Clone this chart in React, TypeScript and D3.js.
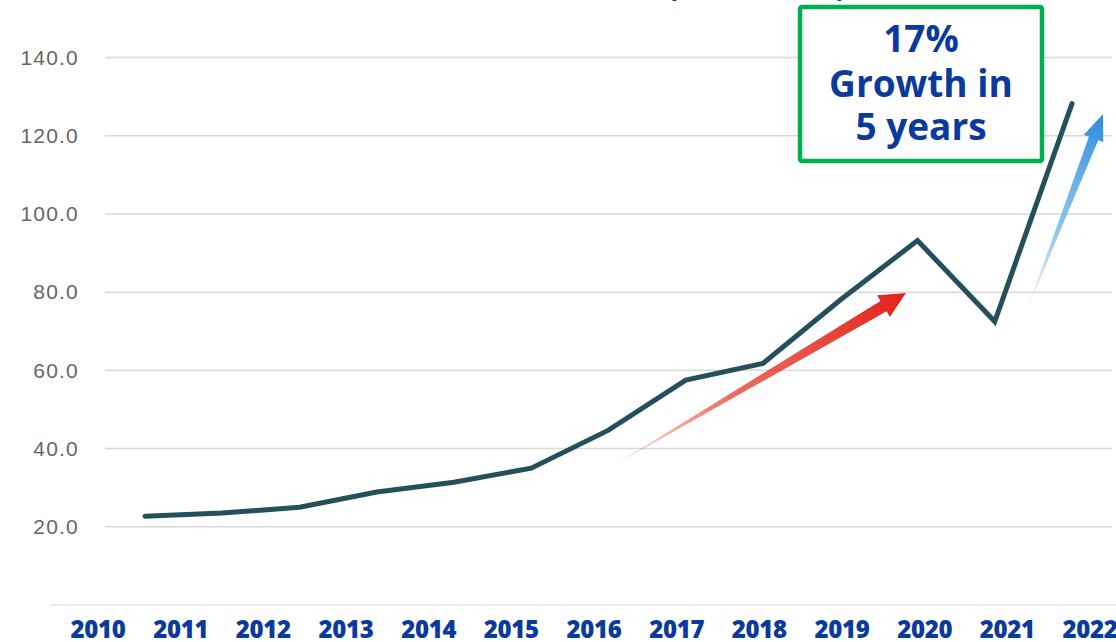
import React, { useRef, useEffect } from "react";
import * as d3 from "d3";

const years = ["2010", "2011", "2012", "2013", "2014", "2015", "2016", "2017", "2018", "2019", "2020", "2021", "2022"];
const values = [22.7, 23.5, 25.0, 28.9, 31.4, 35.0, 44.7, 57.5, 61.8, 78.0, 93.2, 72.5, 128.2];
const yTicks = [20, 40, 60, 80, 100, 120, 140];
const boxLines = ["17%", "Growth in", "5 years"];
// arrows in data space: [index, value]
const redArrow = [[6.05, 35.5], [9.85, 79.8]];
const blueArrow = [[11.42, 75.5], [12.4, 125.5]];

const W = 1116;
const H = 642;

function arrowPath(x0, y0, x1, y1, shaft, head, headLen) {
  const dx = x1 - x0, dy = y1 - y0;
  const len = Math.sqrt(dx * dx + dy * dy);
  const ux = dx / len, uy = dy / len;
  const nx = -uy, ny = ux;
  const bx = x1 - ux * headLen, by = y1 - uy * headLen;
  const p = [
    [x0, y0],
    [bx + nx * shaft / 2, by + ny * shaft / 2],
    [bx + nx * head / 2, by + ny * head / 2],
    [x1, y1],
    [bx - nx * head / 2, by - ny * head / 2],
    [bx - nx * shaft / 2, by - ny * shaft / 2],
  ];
  return "M" + p.map((d) => d.join(",")).join("L") + "Z";
}

const App = () => {
  const ref = useRef(null);
  useEffect(() => {
    const svg = d3.select(ref.current);
    svg.selectAll("*").remove();

    const x = d3.scalePoint().domain(d3.range(years.length)).range([145, 1072]);
    const xi = d3.scaleLinear().domain([0, years.length - 1]).range([145, 1072]);
    const xl = d3.scalePoint().domain(years).range([98, 1090]);
    const y = d3.scaleLinear().domain([0, 140]).range([605, 57.5]);

    const defs = svg.append("defs");
    const mkGrad = (id, a, b, c) => {
      const [p0, p1] = a;
      const g = defs.append("linearGradient").attr("id", id)
        .attr("gradientUnits", "userSpaceOnUse")
        .attr("x1", xi(p0[0])).attr("y1", y(p0[1]))
        .attr("x2", xi(p1[0])).attr("y2", y(p1[1]));
      g.append("stop").attr("offset", "0%").attr("stop-color", b).attr("stop-opacity", 0.1);
      g.append("stop").attr("offset", "40%").attr("stop-color", b).attr("stop-opacity", 0.75);
      g.append("stop").attr("offset", "100%").attr("stop-color", c).attr("stop-opacity", 1);
    };
    mkGrad("gRed", redArrow, "#e4402f", "#e3201b");
    mkGrad("gBlue", blueArrow, "#6fb3e8", "#2b8ddc");

    // title (cropped at top)
    svg.append("text")
      .attr("x", 846).attr("y", -3)
      .attr("text-anchor", "end")
      .attr("font-family", "'Open Sans', sans-serif")
      .attr("font-weight", 700).attr("font-size", 29)
      .attr("fill", "#0a3a9c")
      .text("Market Size (USD Billion)");

    // gridlines
    svg.append("g").selectAll("line").data(yTicks).join("line")
      .attr("x1", 105).attr("x2", 1112)
      .attr("y1", (d) => y(d)).attr("y2", (d) => y(d))
      .attr("stroke", "#d9d9d9").attr("stroke-width", 1.5);
    svg.append("line")
      .attr("x1", 50).attr("x2", 1116)
      .attr("y1", y(0)).attr("y2", y(0))
      .attr("stroke", "#e6e6e6").attr("stroke-width", 1.5);

    // y labels
    svg.append("g").selectAll("text").data(yTicks).join("text")
      .attr("x", 79).attr("y", (d) => y(d))
      .attr("dy", "0.35em")
      .attr("text-anchor", "end")
      .attr("font-family", "'Liberation Sans', Arial, sans-serif")
      .attr("font-size", 21).attr("letter-spacing", 1.2)
      .attr("fill", "#666666")
      .text((d) => d.toFixed(1));

    // arrows
    const drawArrow = (a, fill, shaft, head, headLen) => {
      svg.append("path")
        .attr("d", arrowPath(xi(a[0][0]), y(a[0][1]), xi(a[1][0]), y(a[1][1]), shaft, head, headLen))
        .attr("fill", fill);
    };
    drawArrow(redArrow, "url(#gRed)", 12, 25, 26);
    drawArrow(blueArrow, "url(#gBlue)", 10, 21, 26);

    // line
    const line = d3.line()
      .x((d, i) => x(i))
      .y((d) => y(d));
    svg.append("path")
      .datum(values)
      .attr("fill", "none")
      .attr("stroke", "#244f5b")
      .attr("stroke-width", 5)
      .attr("stroke-linejoin", "miter")
      .attr("stroke-linecap", "round")
      .attr("d", line);

    // x labels
    svg.append("g").selectAll("text").data(years).join("text")
      .attr("x", (d) => xl(d)).attr("y", 638)
      .attr("text-anchor", "middle")
      .attr("font-family", "'Open Sans', sans-serif")
      .attr("font-weight", 800).attr("font-size", 24)
      .attr("letter-spacing", -0.3)
      .attr("fill", "#0a3a9c")
      .text((d) => d);

    // annotation box
    svg.append("rect")
      .attr("x", 800).attr("y", 7)
      .attr("width", 242).attr("height", 154)
      .attr("rx", 2)
      .attr("fill", "#fff")
      .attr("stroke", "#00b050").attr("stroke-width", 4.5);
    const baselines = [52, 97, 140];
    svg.append("g").selectAll("text").data(boxLines).join("text")
      .attr("x", 921).attr("y", (d, i) => baselines[i])
      .attr("text-anchor", "middle")
      .attr("font-family", "'Open Sans', sans-serif")
      .attr("font-weight", 700).attr("font-size", 37)
      .attr("fill", "#0a3a9c")
      .text((d) => d);
  }, []);

  return (
    <svg
      ref={ref}
      width={W}
      height={H}
      viewBox={`0 0 ${W} ${H}`}
      style={{ position: "absolute", left: 0, top: 0, background: "#fff" }}
    ></svg>
  );
};

export default App;
